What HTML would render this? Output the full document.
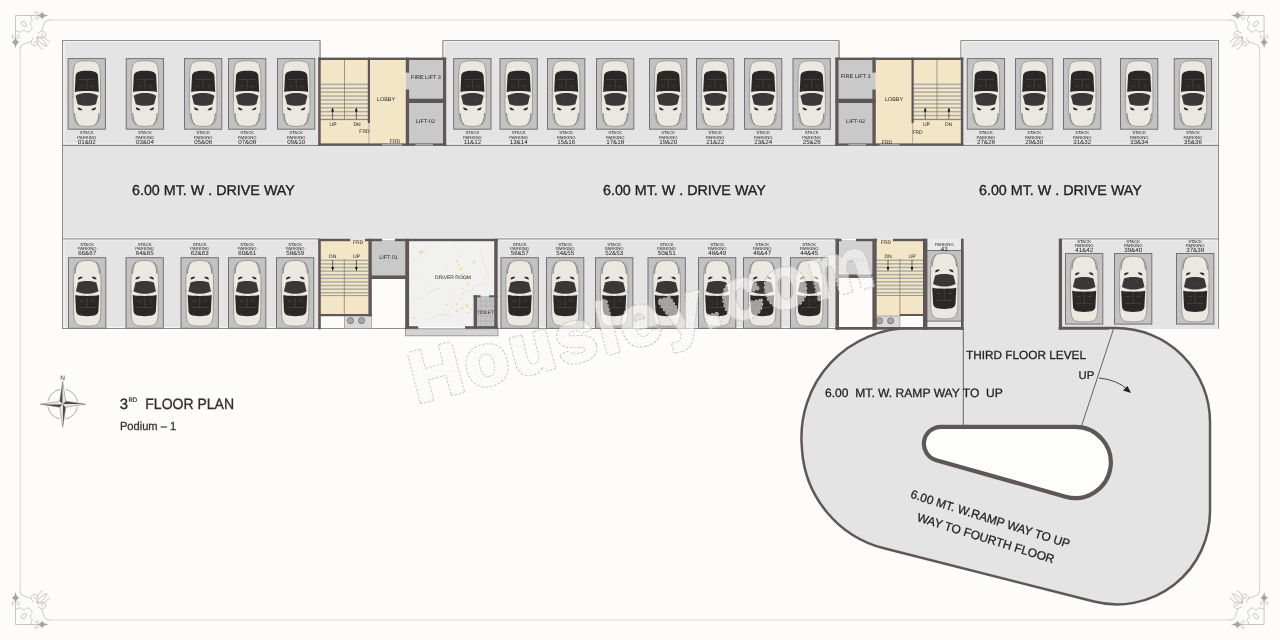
<!DOCTYPE html>
<html><head><meta charset="utf-8"><title>3rd Floor Plan</title>
<style>html,body{margin:0;padding:0;background:#fdfcfa;width:1280px;height:640px;overflow:hidden}svg{display:block;will-change:transform}text{text-rendering:geometricPrecision}</style>
</head><body><svg width="1280" height="640" viewBox="0 0 1280 640">
<defs>
 <g id="car">
  <rect x="0.5" y="0.5" width="37.3" height="70.6" fill="#c2c2c2" stroke="#727272" stroke-width="1"/>
  <path d="M19.2 2.7 C25 2.7 29.5 3.2 31 6.5 C32.6 10 32.8 14 32.8 20 L33 44 C33 52 32.6 58 31.5 62 C30 67 25 68.3 19.2 68.3 C13.4 68.3 8.4 67 6.9 62 C5.8 58 5.4 52 5.4 44 L5.6 20 C5.6 14 5.8 10 7.4 6.5 C8.9 3.2 13.4 2.7 19.2 2.7 Z" fill="#ebe8e2" stroke="#8a867f" stroke-width="0.7"/>
  <ellipse cx="5.3" cy="37.7" rx="1" ry="0.8" fill="#dcd9d3" stroke="#8a867f" stroke-width="0.4"/>
  <ellipse cx="33.1" cy="37.7" rx="1" ry="0.8" fill="#dcd9d3" stroke="#8a867f" stroke-width="0.4"/>
  <path d="M8 18 C8.5 14 11 12.6 19.2 12.6 C27.4 12.6 29.9 14 30.4 18 L31.2 33.8 C26 32.6 12.4 32.6 7.2 33.8 Z" fill="#2a2827"/>
  <path d="M7.9 37.6 C12 35.5 15.5 35 19.2 35 C22.9 35 26.4 35.5 30.5 37.6 L28.4 46.2 C25 47.3 22 47.7 19.2 47.7 C16.4 47.7 13.4 47.3 10 46.2 Z" fill="#3a3837"/>
  <path d="M11 21.3 L27.4 21.3 M19.2 21.3 L19.2 31 M11.5 28 L16 28 M22.4 28 L27 28" stroke="#625e5c" stroke-width="0.45"/>
  <path d="M12 15 h0.6 M24 14.5 h0.6 M15 25 h0.6 M25 30 h0.6 M10 31 h0.6 M17 40 h0.6 M23 42 h0.6" stroke="#7a7775" stroke-width="0.5"/>
  <path d="M7 55 C7.3 60.5 8.2 64 10.8 66.6 M31.4 55 C31.1 60.5 30.2 64 27.6 66.6" stroke="#555250" stroke-width="0.7" fill="none"/>
  <path d="M10 49.2 C12 49.6 13.9 50.6 14.8 51.9 C13 52.5 11.1 51.9 10.3 50.9 Z" fill="#2e2c2b"/>
  <path d="M28.4 49.2 C26.4 49.6 24.5 50.6 23.6 51.9 C25.4 52.5 27.3 51.9 28.1 50.9 Z" fill="#2e2c2b"/>
 </g>
</defs><rect width="1280" height="640" fill="#fdfcfa"/><path d="M51 20 L1229 20 M20.3 51 L20.3 589 M1259.6 51 L1259.6 589 M51 620 L1229 620" stroke="#e0dcd3" stroke-width="1.2" fill="none"/><g transform="translate(20,20) scale(1,1)" fill="none" stroke="#b9b4ad" stroke-width="0.75"><path d="M-4.5 16 L-4.5 -4.5 L16 -4.5"/><path d="M11.3 -4.5 C10 -3 12.8 -1.5 12 0.8 C11.4 2.4 9.8 2.2 10 3.8 C10.2 5.4 12.6 5.6 12 7.6 C11.5 9.5 10.5 10.5 10.5 10.5 M-4.5 11.3 C-3 10 -1.5 12.8 0.8 12 C2.4 11.4 2.2 9.8 3.8 10 C5.4 10.2 5.6 12.6 7.6 12 C9.5 11.5 10.5 10.5 10.5 10.5"/><ellipse cx="3.8" cy="3.8" rx="3.2" ry="1.9" transform="rotate(45 3.8 3.8)"/><path d="M16 -4.5 C18.5 -5 19 -7.5 17 -8.2 C15.5 -8.7 14.5 -7 15.8 -6.2 M16 -4.5 C18.5 -4 19 -1.5 17 -0.8 C15.5 -0.3 14.5 -2 15.8 -2.8"/><path d="M-4.5 16 C-5 18.5 -7.5 19 -8.2 17 C-8.7 15.5 -7 14.5 -6.2 15.8 M-4.5 16 C-4 18.5 -1.5 19 -0.8 17 C-0.3 15.5 -2 14.5 -2.8 15.8"/><path d="M31 0 C26.5 0 24.5 1.5 24 4 C23.5 7 22.5 8.5 21.5 10.5 C20.5 12.5 19 13.5 17.5 12.8 M0 31 C0 26.5 1.5 24.5 4 24 C7 23.5 8.5 22.5 10.5 21.5 C12.5 20.5 13.5 19 12.8 17.5"/><path d="M21.5 11.5 C24.5 10.5 26.5 13.5 25.3 16 C24.2 18 21.6 17.6 21.6 15.6 C21.6 14.2 23 13.6 23.8 14.6"/><path d="M11.5 21.5 C10.5 24.5 13.5 26.5 16 25.3 C18 24.2 17.6 21.6 15.6 21.6 C14.2 21.6 13.6 23 14.6 23.8"/><path d="M17 17 C21 18 25 21 27 26.5 C22 25 18.5 21.5 17 17 Z M17 17 C23 16.5 28 18.5 29.5 23 M17 17 C16.5 23 18.5 28 23 29.5"/></g><g transform="translate(20,20) scale(1,1)" fill="#a9a49e" stroke="none"><path d="M16.5 -4.5 C19.5 -4.8 21 -6 22 -8.5 C23 -6 25 -4.8 29 -4.5 C25 -4.2 23 -3 22 -0.5 C21 -3 19.5 -4.2 16.5 -4.5 Z"/><path d="M-4.5 16.5 C-4.8 19.5 -6 21 -8.5 22 C-6 23 -4.8 25 -4.5 29 C-4.2 25 -3 23 -0.5 22 C-3 21 -4.2 19.5 -4.5 16.5 Z"/></g><g transform="translate(1259.6,20) scale(-1,1)" fill="none" stroke="#b9b4ad" stroke-width="0.75"><path d="M-4.5 16 L-4.5 -4.5 L16 -4.5"/><path d="M11.3 -4.5 C10 -3 12.8 -1.5 12 0.8 C11.4 2.4 9.8 2.2 10 3.8 C10.2 5.4 12.6 5.6 12 7.6 C11.5 9.5 10.5 10.5 10.5 10.5 M-4.5 11.3 C-3 10 -1.5 12.8 0.8 12 C2.4 11.4 2.2 9.8 3.8 10 C5.4 10.2 5.6 12.6 7.6 12 C9.5 11.5 10.5 10.5 10.5 10.5"/><ellipse cx="3.8" cy="3.8" rx="3.2" ry="1.9" transform="rotate(45 3.8 3.8)"/><path d="M16 -4.5 C18.5 -5 19 -7.5 17 -8.2 C15.5 -8.7 14.5 -7 15.8 -6.2 M16 -4.5 C18.5 -4 19 -1.5 17 -0.8 C15.5 -0.3 14.5 -2 15.8 -2.8"/><path d="M-4.5 16 C-5 18.5 -7.5 19 -8.2 17 C-8.7 15.5 -7 14.5 -6.2 15.8 M-4.5 16 C-4 18.5 -1.5 19 -0.8 17 C-0.3 15.5 -2 14.5 -2.8 15.8"/><path d="M31 0 C26.5 0 24.5 1.5 24 4 C23.5 7 22.5 8.5 21.5 10.5 C20.5 12.5 19 13.5 17.5 12.8 M0 31 C0 26.5 1.5 24.5 4 24 C7 23.5 8.5 22.5 10.5 21.5 C12.5 20.5 13.5 19 12.8 17.5"/><path d="M21.5 11.5 C24.5 10.5 26.5 13.5 25.3 16 C24.2 18 21.6 17.6 21.6 15.6 C21.6 14.2 23 13.6 23.8 14.6"/><path d="M11.5 21.5 C10.5 24.5 13.5 26.5 16 25.3 C18 24.2 17.6 21.6 15.6 21.6 C14.2 21.6 13.6 23 14.6 23.8"/><path d="M17 17 C21 18 25 21 27 26.5 C22 25 18.5 21.5 17 17 Z M17 17 C23 16.5 28 18.5 29.5 23 M17 17 C16.5 23 18.5 28 23 29.5"/></g><g transform="translate(1259.6,20) scale(-1,1)" fill="#a9a49e" stroke="none"><path d="M16.5 -4.5 C19.5 -4.8 21 -6 22 -8.5 C23 -6 25 -4.8 29 -4.5 C25 -4.2 23 -3 22 -0.5 C21 -3 19.5 -4.2 16.5 -4.5 Z"/><path d="M-4.5 16.5 C-4.8 19.5 -6 21 -8.5 22 C-6 23 -4.8 25 -4.5 29 C-4.2 25 -3 23 -0.5 22 C-3 21 -4.2 19.5 -4.5 16.5 Z"/></g><g transform="translate(20,620) scale(1,-1)" fill="none" stroke="#b9b4ad" stroke-width="0.75"><path d="M-4.5 16 L-4.5 -4.5 L16 -4.5"/><path d="M11.3 -4.5 C10 -3 12.8 -1.5 12 0.8 C11.4 2.4 9.8 2.2 10 3.8 C10.2 5.4 12.6 5.6 12 7.6 C11.5 9.5 10.5 10.5 10.5 10.5 M-4.5 11.3 C-3 10 -1.5 12.8 0.8 12 C2.4 11.4 2.2 9.8 3.8 10 C5.4 10.2 5.6 12.6 7.6 12 C9.5 11.5 10.5 10.5 10.5 10.5"/><ellipse cx="3.8" cy="3.8" rx="3.2" ry="1.9" transform="rotate(45 3.8 3.8)"/><path d="M16 -4.5 C18.5 -5 19 -7.5 17 -8.2 C15.5 -8.7 14.5 -7 15.8 -6.2 M16 -4.5 C18.5 -4 19 -1.5 17 -0.8 C15.5 -0.3 14.5 -2 15.8 -2.8"/><path d="M-4.5 16 C-5 18.5 -7.5 19 -8.2 17 C-8.7 15.5 -7 14.5 -6.2 15.8 M-4.5 16 C-4 18.5 -1.5 19 -0.8 17 C-0.3 15.5 -2 14.5 -2.8 15.8"/><path d="M31 0 C26.5 0 24.5 1.5 24 4 C23.5 7 22.5 8.5 21.5 10.5 C20.5 12.5 19 13.5 17.5 12.8 M0 31 C0 26.5 1.5 24.5 4 24 C7 23.5 8.5 22.5 10.5 21.5 C12.5 20.5 13.5 19 12.8 17.5"/><path d="M21.5 11.5 C24.5 10.5 26.5 13.5 25.3 16 C24.2 18 21.6 17.6 21.6 15.6 C21.6 14.2 23 13.6 23.8 14.6"/><path d="M11.5 21.5 C10.5 24.5 13.5 26.5 16 25.3 C18 24.2 17.6 21.6 15.6 21.6 C14.2 21.6 13.6 23 14.6 23.8"/><path d="M17 17 C21 18 25 21 27 26.5 C22 25 18.5 21.5 17 17 Z M17 17 C23 16.5 28 18.5 29.5 23 M17 17 C16.5 23 18.5 28 23 29.5"/></g><g transform="translate(20,620) scale(1,-1)" fill="#a9a49e" stroke="none"><path d="M16.5 -4.5 C19.5 -4.8 21 -6 22 -8.5 C23 -6 25 -4.8 29 -4.5 C25 -4.2 23 -3 22 -0.5 C21 -3 19.5 -4.2 16.5 -4.5 Z"/><path d="M-4.5 16.5 C-4.8 19.5 -6 21 -8.5 22 C-6 23 -4.8 25 -4.5 29 C-4.2 25 -3 23 -0.5 22 C-3 21 -4.2 19.5 -4.5 16.5 Z"/></g><g transform="translate(1259.6,620) scale(-1,-1)" fill="none" stroke="#b9b4ad" stroke-width="0.75"><path d="M-4.5 16 L-4.5 -4.5 L16 -4.5"/><path d="M11.3 -4.5 C10 -3 12.8 -1.5 12 0.8 C11.4 2.4 9.8 2.2 10 3.8 C10.2 5.4 12.6 5.6 12 7.6 C11.5 9.5 10.5 10.5 10.5 10.5 M-4.5 11.3 C-3 10 -1.5 12.8 0.8 12 C2.4 11.4 2.2 9.8 3.8 10 C5.4 10.2 5.6 12.6 7.6 12 C9.5 11.5 10.5 10.5 10.5 10.5"/><ellipse cx="3.8" cy="3.8" rx="3.2" ry="1.9" transform="rotate(45 3.8 3.8)"/><path d="M16 -4.5 C18.5 -5 19 -7.5 17 -8.2 C15.5 -8.7 14.5 -7 15.8 -6.2 M16 -4.5 C18.5 -4 19 -1.5 17 -0.8 C15.5 -0.3 14.5 -2 15.8 -2.8"/><path d="M-4.5 16 C-5 18.5 -7.5 19 -8.2 17 C-8.7 15.5 -7 14.5 -6.2 15.8 M-4.5 16 C-4 18.5 -1.5 19 -0.8 17 C-0.3 15.5 -2 14.5 -2.8 15.8"/><path d="M31 0 C26.5 0 24.5 1.5 24 4 C23.5 7 22.5 8.5 21.5 10.5 C20.5 12.5 19 13.5 17.5 12.8 M0 31 C0 26.5 1.5 24.5 4 24 C7 23.5 8.5 22.5 10.5 21.5 C12.5 20.5 13.5 19 12.8 17.5"/><path d="M21.5 11.5 C24.5 10.5 26.5 13.5 25.3 16 C24.2 18 21.6 17.6 21.6 15.6 C21.6 14.2 23 13.6 23.8 14.6"/><path d="M11.5 21.5 C10.5 24.5 13.5 26.5 16 25.3 C18 24.2 17.6 21.6 15.6 21.6 C14.2 21.6 13.6 23 14.6 23.8"/><path d="M17 17 C21 18 25 21 27 26.5 C22 25 18.5 21.5 17 17 Z M17 17 C23 16.5 28 18.5 29.5 23 M17 17 C16.5 23 18.5 28 23 29.5"/></g><g transform="translate(1259.6,620) scale(-1,-1)" fill="#a9a49e" stroke="none"><path d="M16.5 -4.5 C19.5 -4.8 21 -6 22 -8.5 C23 -6 25 -4.8 29 -4.5 C25 -4.2 23 -3 22 -0.5 C21 -3 19.5 -4.2 16.5 -4.5 Z"/><path d="M-4.5 16.5 C-4.8 19.5 -6 21 -8.5 22 C-6 23 -4.8 25 -4.5 29 C-4.2 25 -3 23 -0.5 22 C-3 21 -4.2 19.5 -4.5 16.5 Z"/></g><g fill="#e4e4e4" stroke="#8f8e8b" stroke-width="1"><path d="M62.5 40.5 L320 40.5 L320 58 M443 58 L443 40.5 L839 40.5 L839 58 M961 58 L961 40.5 L1218.5 40.5 L1218.5 328.5 L1059 328.5 M836 328.5 L498 328.5 M405 328.5 L319 328.5 L62.5 328.5 L62.5 40.5" fill="none"/></g><g fill="#e4e4e4"><rect x="63" y="41" width="256.5" height="288"/><rect x="443.5" y="41" width="395" height="105"/><rect x="961.5" y="41" width="257" height="288"/><rect x="63" y="145" width="1155.5" height="94"/><rect x="498" y="239" width="338" height="90"/><rect x="963" y="239" width="96" height="90"/></g><path d="M62.5 40.5 L320 40.5 L320 58 M443 58 L443 40.5 L839 40.5 L839 58 M961 58 L961 40.5 L1218.5 40.5 L1218.5 328.5 M62.5 328.5 L62.5 40.5 M62.5 328.5 L319 328.5 M498 328.5 L836 328.5" fill="none" stroke="#8f8e8b" stroke-width="1"/><path d="M64 58 L64 41.6 L319 41.6 M444.2 58 L444.2 41.6 L838 41.6 M962 58 L962 41.6 L1217.5 41.6 L1217.5 144 M64 144 L64 41.6 M64 240 L64 327.5 L318 327.5 M499 327.5 L835 327.5 M1217.5 240 L1217.5 327.5" stroke="#f4f4f4" stroke-width="1" fill="none"/><path d="M63 144 L1218 144 M63 237.8 L319 237.8 M498 237.8 L836 237.8 M1059 237.8 L1218 237.8 M63 240 L319 240 M498 240 L836 240 M1059 240 L1218 240" stroke="#f4f4f4" stroke-width="1"/><path d="M63 145.4 L1218 145.4" stroke="#767272" stroke-width="1"/><path d="M63 238.9 L319 238.9 M498 238.9 L836 238.9 M1059 238.9 L1218 238.9" stroke="#8e8b89" stroke-width="1"/><path d="M910.68 328.00 L1116.01 328.00 A93.99 93.99 0 0 1 1210.00 421.99 L1210.00 511.32 A93.09 93.09 0 0 1 1094.01 601.56 L884.01 548.27 A109.02 109.02 0 0 1 802.06 450.08 L801.69 444.74 A109.24 109.24 0 0 1 910.68 328.00 Z" fill="#e4e4e4" stroke="#5f5757" stroke-width="2.5"/><rect x="963" y="320" width="96" height="10" fill="#e4e4e4"/><path d="M940.92 426.80 L1075.25 426.80 A35.59 35.59 0 1 1 1065.61 496.65 L936.30 460.26 A17.05 17.05 0 0 1 940.92 426.80 Z" fill="#fdfdfb" stroke="#5f5757" stroke-width="4.2"/><path d="M963.3 329 L963.3 426 M1113.5 329 L1081.5 426" stroke="#555" stroke-width="0.9"/><path d="M1099 378 Q1118 380 1128 390" fill="none" stroke="#333" stroke-width="0.9"/><path d="M1131 393 L1123 390.5 L1127.5 386 Z" fill="#222"/><g font-family="Liberation Sans, sans-serif"><text x="966" y="358.8" font-size="11.8" text-anchor="start" fill="#1e1e1e" font-weight="normal" stroke="#1e1e1e" stroke-width="0.26" >THIRD FLOOR LEVEL</text><text x="825" y="396.6" font-size="12.1" text-anchor="start" fill="#1e1e1e" font-weight="normal" stroke="#1e1e1e" stroke-width="0.266" >6.00&#160; MT. W. RAMP WAY TO&#160; UP</text><text x="1078.5" y="378.8" font-size="11.3" text-anchor="start" fill="#1e1e1e" font-weight="normal" stroke="#1e1e1e" stroke-width="0.249" >UP</text><g transform="translate(909.8,497.6) rotate(17.6)"><text x="0" y="0" font-size="12" text-anchor="start" fill="#1e1e1e" font-weight="normal" stroke="#1e1e1e" stroke-width="0.264" >6.00 MT. W.RAMP WAY TO UP</text></g><g transform="translate(916.2,520.8) rotate(17.3)"><text x="0" y="0" font-size="12" text-anchor="start" fill="#1e1e1e" font-weight="normal" stroke="#1e1e1e" stroke-width="0.264" >WAY TO FOURTH FLOOR</text></g><text x="132" y="195.2" font-size="14.3" text-anchor="start" fill="#1e1e1e" font-weight="normal" stroke="#1e1e1e" stroke-width="0.315" >6.00 MT. W . DRIVE WAY</text><text x="603" y="195.2" font-size="14.3" text-anchor="start" fill="#1e1e1e" font-weight="normal" stroke="#1e1e1e" stroke-width="0.315" >6.00 MT. W . DRIVE WAY</text><text x="979" y="195.2" font-size="14.3" text-anchor="start" fill="#1e1e1e" font-weight="normal" stroke="#1e1e1e" stroke-width="0.315" >6.00 MT. W . DRIVE WAY</text></g><g font-family="Liberation Sans, sans-serif"><use href="#car" x="67.6" y="58.1"/><text x="86.8" y="134.4" font-size="4.3" text-anchor="middle" fill="#1e1e1e" font-weight="normal" >STACK</text><text x="86.8" y="138.6" font-size="4.3" text-anchor="middle" fill="#1e1e1e" font-weight="normal" >PARKING</text><text x="86.8" y="143.6" font-size="6.2" text-anchor="middle" fill="#1e1e1e" font-weight="normal" >01&amp;02</text><use href="#car" x="125.75" y="58.1"/><text x="144.95" y="134.4" font-size="4.3" text-anchor="middle" fill="#1e1e1e" font-weight="normal" >STACK</text><text x="144.95" y="138.6" font-size="4.3" text-anchor="middle" fill="#1e1e1e" font-weight="normal" >PARKING</text><text x="144.95" y="143.6" font-size="6.2" text-anchor="middle" fill="#1e1e1e" font-weight="normal" >03&amp;04</text><use href="#car" x="184" y="58.1"/><text x="203.2" y="134.4" font-size="4.3" text-anchor="middle" fill="#1e1e1e" font-weight="normal" >STACK</text><text x="203.2" y="138.6" font-size="4.3" text-anchor="middle" fill="#1e1e1e" font-weight="normal" >PARKING</text><text x="203.2" y="143.6" font-size="6.2" text-anchor="middle" fill="#1e1e1e" font-weight="normal" >05&amp;06</text><use href="#car" x="228" y="58.1"/><text x="247.2" y="134.4" font-size="4.3" text-anchor="middle" fill="#1e1e1e" font-weight="normal" >STACK</text><text x="247.2" y="138.6" font-size="4.3" text-anchor="middle" fill="#1e1e1e" font-weight="normal" >PARKING</text><text x="247.2" y="143.6" font-size="6.2" text-anchor="middle" fill="#1e1e1e" font-weight="normal" >07&amp;08</text><use href="#car" x="277" y="58.1"/><text x="296.2" y="134.4" font-size="4.3" text-anchor="middle" fill="#1e1e1e" font-weight="normal" >STACK</text><text x="296.2" y="138.6" font-size="4.3" text-anchor="middle" fill="#1e1e1e" font-weight="normal" >PARKING</text><text x="296.2" y="143.6" font-size="6.2" text-anchor="middle" fill="#1e1e1e" font-weight="normal" >09&amp;10</text><use href="#car" x="453.2" y="58.1"/><text x="472.4" y="134.4" font-size="4.3" text-anchor="middle" fill="#1e1e1e" font-weight="normal" >STACK</text><text x="472.4" y="138.6" font-size="4.3" text-anchor="middle" fill="#1e1e1e" font-weight="normal" >PARKING</text><text x="472.4" y="143.6" font-size="6.2" text-anchor="middle" fill="#1e1e1e" font-weight="normal" >11&amp;12</text><use href="#car" x="499.5" y="58.1"/><text x="518.7" y="134.4" font-size="4.3" text-anchor="middle" fill="#1e1e1e" font-weight="normal" >STACK</text><text x="518.7" y="138.6" font-size="4.3" text-anchor="middle" fill="#1e1e1e" font-weight="normal" >PARKING</text><text x="518.7" y="143.6" font-size="6.2" text-anchor="middle" fill="#1e1e1e" font-weight="normal" >13&amp;14</text><use href="#car" x="547" y="58.1"/><text x="566.2" y="134.4" font-size="4.3" text-anchor="middle" fill="#1e1e1e" font-weight="normal" >STACK</text><text x="566.2" y="138.6" font-size="4.3" text-anchor="middle" fill="#1e1e1e" font-weight="normal" >PARKING</text><text x="566.2" y="143.6" font-size="6.2" text-anchor="middle" fill="#1e1e1e" font-weight="normal" >15&amp;16</text><use href="#car" x="596" y="58.1"/><text x="615.2" y="134.4" font-size="4.3" text-anchor="middle" fill="#1e1e1e" font-weight="normal" >STACK</text><text x="615.2" y="138.6" font-size="4.3" text-anchor="middle" fill="#1e1e1e" font-weight="normal" >PARKING</text><text x="615.2" y="143.6" font-size="6.2" text-anchor="middle" fill="#1e1e1e" font-weight="normal" >17&amp;18</text><use href="#car" x="649" y="58.1"/><text x="668.2" y="134.4" font-size="4.3" text-anchor="middle" fill="#1e1e1e" font-weight="normal" >STACK</text><text x="668.2" y="138.6" font-size="4.3" text-anchor="middle" fill="#1e1e1e" font-weight="normal" >PARKING</text><text x="668.2" y="143.6" font-size="6.2" text-anchor="middle" fill="#1e1e1e" font-weight="normal" >19&amp;20</text><use href="#car" x="696" y="58.1"/><text x="715.2" y="134.4" font-size="4.3" text-anchor="middle" fill="#1e1e1e" font-weight="normal" >STACK</text><text x="715.2" y="138.6" font-size="4.3" text-anchor="middle" fill="#1e1e1e" font-weight="normal" >PARKING</text><text x="715.2" y="143.6" font-size="6.2" text-anchor="middle" fill="#1e1e1e" font-weight="normal" >21&amp;22</text><use href="#car" x="744" y="58.1"/><text x="763.2" y="134.4" font-size="4.3" text-anchor="middle" fill="#1e1e1e" font-weight="normal" >STACK</text><text x="763.2" y="138.6" font-size="4.3" text-anchor="middle" fill="#1e1e1e" font-weight="normal" >PARKING</text><text x="763.2" y="143.6" font-size="6.2" text-anchor="middle" fill="#1e1e1e" font-weight="normal" >23&amp;24</text><use href="#car" x="792.5" y="58.1"/><text x="811.7" y="134.4" font-size="4.3" text-anchor="middle" fill="#1e1e1e" font-weight="normal" >STACK</text><text x="811.7" y="138.6" font-size="4.3" text-anchor="middle" fill="#1e1e1e" font-weight="normal" >PARKING</text><text x="811.7" y="143.6" font-size="6.2" text-anchor="middle" fill="#1e1e1e" font-weight="normal" >25&amp;26</text><use href="#car" x="966.75" y="58.1"/><text x="985.95" y="134.4" font-size="4.3" text-anchor="middle" fill="#1e1e1e" font-weight="normal" >STACK</text><text x="985.95" y="138.6" font-size="4.3" text-anchor="middle" fill="#1e1e1e" font-weight="normal" >PARKING</text><text x="985.95" y="143.6" font-size="6.2" text-anchor="middle" fill="#1e1e1e" font-weight="normal" >27&amp;28</text><use href="#car" x="1015" y="58.1"/><text x="1034.2" y="134.4" font-size="4.3" text-anchor="middle" fill="#1e1e1e" font-weight="normal" >STACK</text><text x="1034.2" y="138.6" font-size="4.3" text-anchor="middle" fill="#1e1e1e" font-weight="normal" >PARKING</text><text x="1034.2" y="143.6" font-size="6.2" text-anchor="middle" fill="#1e1e1e" font-weight="normal" >29&amp;30</text><use href="#car" x="1063" y="58.1"/><text x="1082.2" y="134.4" font-size="4.3" text-anchor="middle" fill="#1e1e1e" font-weight="normal" >STACK</text><text x="1082.2" y="138.6" font-size="4.3" text-anchor="middle" fill="#1e1e1e" font-weight="normal" >PARKING</text><text x="1082.2" y="143.6" font-size="6.2" text-anchor="middle" fill="#1e1e1e" font-weight="normal" >31&amp;32</text><use href="#car" x="1120" y="58.1"/><text x="1139.2" y="134.4" font-size="4.3" text-anchor="middle" fill="#1e1e1e" font-weight="normal" >STACK</text><text x="1139.2" y="138.6" font-size="4.3" text-anchor="middle" fill="#1e1e1e" font-weight="normal" >PARKING</text><text x="1139.2" y="143.6" font-size="6.2" text-anchor="middle" fill="#1e1e1e" font-weight="normal" >33&amp;34</text><use href="#car" x="1173.75" y="58.1"/><text x="1192.95" y="134.4" font-size="4.3" text-anchor="middle" fill="#1e1e1e" font-weight="normal" >STACK</text><text x="1192.95" y="138.6" font-size="4.3" text-anchor="middle" fill="#1e1e1e" font-weight="normal" >PARKING</text><text x="1192.95" y="143.6" font-size="6.2" text-anchor="middle" fill="#1e1e1e" font-weight="normal" >35&amp;36</text><g transform="translate(68,328.8) scale(1,-1)"><use href="#car"/></g><text x="87.2" y="246" font-size="4.3" text-anchor="middle" fill="#1e1e1e" font-weight="normal" >STACK</text><text x="87.2" y="250.2" font-size="4.3" text-anchor="middle" fill="#1e1e1e" font-weight="normal" >PARKING</text><text x="87.2" y="255.2" font-size="6.2" text-anchor="middle" fill="#1e1e1e" font-weight="normal" >66&amp;67</text><g transform="translate(125.5,328.8) scale(1,-1)"><use href="#car"/></g><text x="144.7" y="246" font-size="4.3" text-anchor="middle" fill="#1e1e1e" font-weight="normal" >STACK</text><text x="144.7" y="250.2" font-size="4.3" text-anchor="middle" fill="#1e1e1e" font-weight="normal" >PARKING</text><text x="144.7" y="255.2" font-size="6.2" text-anchor="middle" fill="#1e1e1e" font-weight="normal" >64&amp;65</text><g transform="translate(180.5,328.8) scale(1,-1)"><use href="#car"/></g><text x="199.7" y="246" font-size="4.3" text-anchor="middle" fill="#1e1e1e" font-weight="normal" >STACK</text><text x="199.7" y="250.2" font-size="4.3" text-anchor="middle" fill="#1e1e1e" font-weight="normal" >PARKING</text><text x="199.7" y="255.2" font-size="6.2" text-anchor="middle" fill="#1e1e1e" font-weight="normal" >62&amp;63</text><g transform="translate(228,328.8) scale(1,-1)"><use href="#car"/></g><text x="247.2" y="246" font-size="4.3" text-anchor="middle" fill="#1e1e1e" font-weight="normal" >STACK</text><text x="247.2" y="250.2" font-size="4.3" text-anchor="middle" fill="#1e1e1e" font-weight="normal" >PARKING</text><text x="247.2" y="255.2" font-size="6.2" text-anchor="middle" fill="#1e1e1e" font-weight="normal" >60&amp;61</text><g transform="translate(276,328.8) scale(1,-1)"><use href="#car"/></g><text x="295.2" y="246" font-size="4.3" text-anchor="middle" fill="#1e1e1e" font-weight="normal" >STACK</text><text x="295.2" y="250.2" font-size="4.3" text-anchor="middle" fill="#1e1e1e" font-weight="normal" >PARKING</text><text x="295.2" y="255.2" font-size="6.2" text-anchor="middle" fill="#1e1e1e" font-weight="normal" >58&amp;59</text><g transform="translate(500.5,328.8) scale(1,-1)"><use href="#car"/></g><text x="519.7" y="246" font-size="4.3" text-anchor="middle" fill="#1e1e1e" font-weight="normal" >STACK</text><text x="519.7" y="250.2" font-size="4.3" text-anchor="middle" fill="#1e1e1e" font-weight="normal" >PARKING</text><text x="519.7" y="255.2" font-size="6.2" text-anchor="middle" fill="#1e1e1e" font-weight="normal" >56&amp;57</text><g transform="translate(546,328.8) scale(1,-1)"><use href="#car"/></g><text x="565.2" y="246" font-size="4.3" text-anchor="middle" fill="#1e1e1e" font-weight="normal" >STACK</text><text x="565.2" y="250.2" font-size="4.3" text-anchor="middle" fill="#1e1e1e" font-weight="normal" >PARKING</text><text x="565.2" y="255.2" font-size="6.2" text-anchor="middle" fill="#1e1e1e" font-weight="normal" >54&amp;55</text><g transform="translate(595,328.8) scale(1,-1)"><use href="#car"/></g><text x="614.2" y="246" font-size="4.3" text-anchor="middle" fill="#1e1e1e" font-weight="normal" >STACK</text><text x="614.2" y="250.2" font-size="4.3" text-anchor="middle" fill="#1e1e1e" font-weight="normal" >PARKING</text><text x="614.2" y="255.2" font-size="6.2" text-anchor="middle" fill="#1e1e1e" font-weight="normal" >52&amp;53</text><g transform="translate(647.5,328.8) scale(1,-1)"><use href="#car"/></g><text x="666.7" y="246" font-size="4.3" text-anchor="middle" fill="#1e1e1e" font-weight="normal" >STACK</text><text x="666.7" y="250.2" font-size="4.3" text-anchor="middle" fill="#1e1e1e" font-weight="normal" >PARKING</text><text x="666.7" y="255.2" font-size="6.2" text-anchor="middle" fill="#1e1e1e" font-weight="normal" >50&amp;51</text><g transform="translate(698,328.8) scale(1,-1)"><use href="#car"/></g><text x="717.2" y="246" font-size="4.3" text-anchor="middle" fill="#1e1e1e" font-weight="normal" >STACK</text><text x="717.2" y="250.2" font-size="4.3" text-anchor="middle" fill="#1e1e1e" font-weight="normal" >PARKING</text><text x="717.2" y="255.2" font-size="6.2" text-anchor="middle" fill="#1e1e1e" font-weight="normal" >48&amp;49</text><g transform="translate(743,328.8) scale(1,-1)"><use href="#car"/></g><text x="762.2" y="246" font-size="4.3" text-anchor="middle" fill="#1e1e1e" font-weight="normal" >STACK</text><text x="762.2" y="250.2" font-size="4.3" text-anchor="middle" fill="#1e1e1e" font-weight="normal" >PARKING</text><text x="762.2" y="255.2" font-size="6.2" text-anchor="middle" fill="#1e1e1e" font-weight="normal" >46&amp;47</text><g transform="translate(790,328.8) scale(1,-1)"><use href="#car"/></g><text x="809.2" y="246" font-size="4.3" text-anchor="middle" fill="#1e1e1e" font-weight="normal" >STACK</text><text x="809.2" y="250.2" font-size="4.3" text-anchor="middle" fill="#1e1e1e" font-weight="normal" >PARKING</text><text x="809.2" y="255.2" font-size="6.2" text-anchor="middle" fill="#1e1e1e" font-weight="normal" >44&amp;45</text><g transform="translate(1065,324.6) scale(1,-1)"><use href="#car"/></g><text x="1084.2" y="242.7" font-size="4.3" text-anchor="middle" fill="#1e1e1e" font-weight="normal" >STACK</text><text x="1084.2" y="246.89999999999998" font-size="4.3" text-anchor="middle" fill="#1e1e1e" font-weight="normal" >PARKING</text><text x="1084.2" y="251.89999999999998" font-size="6.2" text-anchor="middle" fill="#1e1e1e" font-weight="normal" >41&amp;42</text><g transform="translate(1114,324.6) scale(1,-1)"><use href="#car"/></g><text x="1133.2" y="242.7" font-size="4.3" text-anchor="middle" fill="#1e1e1e" font-weight="normal" >STACK</text><text x="1133.2" y="246.89999999999998" font-size="4.3" text-anchor="middle" fill="#1e1e1e" font-weight="normal" >PARKING</text><text x="1133.2" y="251.89999999999998" font-size="6.2" text-anchor="middle" fill="#1e1e1e" font-weight="normal" >39&amp;40</text><g transform="translate(1176,324.6) scale(1,-1)"><use href="#car"/></g><text x="1195.2" y="242.7" font-size="4.3" text-anchor="middle" fill="#1e1e1e" font-weight="normal" >STACK</text><text x="1195.2" y="246.89999999999998" font-size="4.3" text-anchor="middle" fill="#1e1e1e" font-weight="normal" >PARKING</text><text x="1195.2" y="251.89999999999998" font-size="6.2" text-anchor="middle" fill="#1e1e1e" font-weight="normal" >37&amp;38</text></g><g font-family="Liberation Sans, sans-serif"><rect x="318.5" y="58" width="127.5" height="87.5" fill="#f2e6c6"/><rect x="406" y="58" width="40" height="87.5" fill="#c9c9c9"/><rect x="320.5" y="83.60" width="48" height="1.5" fill="#aeaba5"/><rect x="320.5" y="87.50" width="48" height="1.5" fill="#aeaba5"/><rect x="320.5" y="91.40" width="48" height="1.5" fill="#aeaba5"/><rect x="320.5" y="95.30" width="48" height="1.5" fill="#aeaba5"/><rect x="320.5" y="99.20" width="48" height="1.5" fill="#aeaba5"/><rect x="320.5" y="103.10" width="48" height="1.5" fill="#aeaba5"/><rect x="320.5" y="107.00" width="48" height="1.5" fill="#aeaba5"/><rect x="320.5" y="110.90" width="48" height="1.5" fill="#aeaba5"/><rect x="320.5" y="114.80" width="48" height="1.5" fill="#aeaba5"/><rect x="320.5" y="118.70" width="48" height="1.5" fill="#aeaba5"/><path d="M344.5 60 L344.5 119.5" stroke="#7a7570" stroke-width="0.7"/><path d="M320.5 119.5 L368.5 119.5" stroke="#7a7570" stroke-width="0.7"/><path d="M368.9 123 L368.9 143.5" stroke="#8a8580" stroke-width="0.6"/><path d="M332.6 119 L332.6 109.5" stroke="#111" stroke-width="0.6"/><path d="M331.20000000000005 111.5 L332.6 107.3 L334.0 111.5 Z" fill="#111"/><path d="M356.3 119 L356.3 109.5" stroke="#111" stroke-width="0.6"/><path d="M354.90000000000003 111.5 L356.3 107.3 L357.7 111.5 Z" fill="#111"/><g fill="#5f5757"><rect x="318.2" y="57.6" width="128" height="2.4"/><rect x="318.2" y="143.4" width="128" height="2.4"/><rect x="318.2" y="57.6" width="2.5" height="88.2"/><rect x="367.8" y="57.6" width="2.2" height="65.5"/><rect x="405.8" y="57.6" width="3.3" height="15"/><rect x="405.8" y="89.5" width="3.3" height="56.3"/><rect x="443" y="57.6" width="3.2" height="88.2"/><rect x="406" y="98.7" width="40" height="4.3"/></g><rect x="415.5" y="143.9" width="17.5" height="1.6" fill="#a9a9a9"/><rect x="382" y="143.9" width="20" height="1.6" fill="#a9a9a9"/><text x="333" y="125.5" font-size="5" text-anchor="middle" fill="#1e1e1e" font-weight="normal" >UP</text><text x="357" y="125.5" font-size="5" text-anchor="middle" fill="#1e1e1e" font-weight="normal" >DN</text><text x="364.5" y="133.3" font-size="5" text-anchor="middle" fill="#1e1e1e" font-weight="normal" >FRD</text><text x="395" y="143" font-size="5" text-anchor="middle" fill="#1e1e1e" font-weight="normal" >FRD</text><text x="386" y="100.6" font-size="5.4" text-anchor="middle" fill="#1e1e1e" font-weight="normal" >LOBBY</text><text x="426" y="78.6" font-size="5.5" text-anchor="middle" fill="#1e1e1e" font-weight="normal" >FIRE LIFT 3</text><text x="425.5" y="123" font-size="5.5" text-anchor="middle" fill="#1e1e1e" font-weight="normal" >LIFT-02</text><g transform="translate(1281.5,0) scale(-1,1)"><rect x="318.5" y="58" width="127.5" height="87.5" fill="#f2e6c6"/><rect x="406" y="58" width="40" height="87.5" fill="#c9c9c9"/><rect x="320.5" y="83.60" width="48" height="1.5" fill="#aeaba5"/><rect x="320.5" y="87.50" width="48" height="1.5" fill="#aeaba5"/><rect x="320.5" y="91.40" width="48" height="1.5" fill="#aeaba5"/><rect x="320.5" y="95.30" width="48" height="1.5" fill="#aeaba5"/><rect x="320.5" y="99.20" width="48" height="1.5" fill="#aeaba5"/><rect x="320.5" y="103.10" width="48" height="1.5" fill="#aeaba5"/><rect x="320.5" y="107.00" width="48" height="1.5" fill="#aeaba5"/><rect x="320.5" y="110.90" width="48" height="1.5" fill="#aeaba5"/><rect x="320.5" y="114.80" width="48" height="1.5" fill="#aeaba5"/><rect x="320.5" y="118.70" width="48" height="1.5" fill="#aeaba5"/><path d="M344.5 60 L344.5 119.5" stroke="#7a7570" stroke-width="0.7"/><path d="M320.5 119.5 L368.5 119.5" stroke="#7a7570" stroke-width="0.7"/><path d="M368.9 123 L368.9 143.5" stroke="#8a8580" stroke-width="0.6"/><path d="M332.6 119 L332.6 109.5" stroke="#111" stroke-width="0.6"/><path d="M331.20000000000005 111.5 L332.6 107.3 L334.0 111.5 Z" fill="#111"/><path d="M356.3 119 L356.3 109.5" stroke="#111" stroke-width="0.6"/><path d="M354.90000000000003 111.5 L356.3 107.3 L357.7 111.5 Z" fill="#111"/><g fill="#5f5757"><rect x="318.2" y="57.6" width="128" height="2.4"/><rect x="318.2" y="143.4" width="128" height="2.4"/><rect x="318.2" y="57.6" width="2.5" height="88.2"/><rect x="367.8" y="57.6" width="2.2" height="65.5"/><rect x="405.8" y="57.6" width="3.3" height="15"/><rect x="405.8" y="89.5" width="3.3" height="56.3"/><rect x="443" y="57.6" width="3.2" height="88.2"/><rect x="406" y="98.7" width="40" height="4.3"/></g><rect x="415.5" y="143.9" width="17.5" height="1.6" fill="#a9a9a9"/><rect x="382" y="143.9" width="20" height="1.6" fill="#a9a9a9"/></g><text x="855.6" y="78.2" font-size="5.5" text-anchor="middle" fill="#1e1e1e" font-weight="normal" >FIRE LIFT 3</text><text x="855.6" y="123.4" font-size="5.5" text-anchor="middle" fill="#1e1e1e" font-weight="normal" >LIFT-02</text><text x="894" y="100.5" font-size="5.4" text-anchor="middle" fill="#1e1e1e" font-weight="normal" >LOBBY</text><text x="926.4" y="125.5" font-size="5" text-anchor="middle" fill="#1e1e1e" font-weight="normal" >UP</text><text x="948.5" y="125.5" font-size="5" text-anchor="middle" fill="#1e1e1e" font-weight="normal" >DN</text><text x="917.6" y="133.5" font-size="5" text-anchor="middle" fill="#1e1e1e" font-weight="normal" >FRD</text><text x="887" y="143.8" font-size="5" text-anchor="middle" fill="#1e1e1e" font-weight="normal" >FRD</text><rect x="320.5" y="239" width="48" height="76" fill="#f2e6c6"/><rect x="320.8" y="259.60" width="47.599999999999966" height="1.5" fill="#aeaba5"/><rect x="320.8" y="263.20" width="47.599999999999966" height="1.5" fill="#aeaba5"/><rect x="320.8" y="266.80" width="47.599999999999966" height="1.5" fill="#aeaba5"/><rect x="320.8" y="270.40" width="47.599999999999966" height="1.5" fill="#aeaba5"/><rect x="320.8" y="274.00" width="47.599999999999966" height="1.5" fill="#aeaba5"/><rect x="320.8" y="277.60" width="47.599999999999966" height="1.5" fill="#aeaba5"/><rect x="320.8" y="281.20" width="47.599999999999966" height="1.5" fill="#aeaba5"/><rect x="320.8" y="284.80" width="47.599999999999966" height="1.5" fill="#aeaba5"/><rect x="320.8" y="288.40" width="47.599999999999966" height="1.5" fill="#aeaba5"/><rect x="320.8" y="292.00" width="47.599999999999966" height="1.5" fill="#aeaba5"/><path d="M344.3 259 L344.3 314.5 M320.8 295.6 L368.4 295.6" stroke="#7a7570" stroke-width="0.7"/><path d="M332.7 260 L332.7 268.5" stroke="#111" stroke-width="0.6"/><path d="M331.3 267 L332.7 271.2 L334.09999999999997 267 Z" fill="#111"/><path d="M356.4 260 L356.4 268.5" stroke="#111" stroke-width="0.6"/><path d="M355.0 267 L356.4 271.2 L357.79999999999995 267 Z" fill="#111"/><rect x="371.5" y="240" width="34" height="36" fill="#c9c9c9"/><rect x="407" y="240" width="88" height="87" fill="#f1f1ef"/><circle cx="457" cy="261" r="1.16" fill="#eedc9e" opacity="0.85"/><circle cx="459" cy="265" r="0.97" fill="#eedc9e" opacity="0.85"/><circle cx="461" cy="269" r="1.52" fill="#eedc9e" opacity="0.85"/><circle cx="463" cy="274" r="0.88" fill="#eedc9e" opacity="0.85"/><circle cx="466" cy="279" r="1.39" fill="#eedc9e" opacity="0.85"/><circle cx="468" cy="284" r="1.20" fill="#eedc9e" opacity="0.85"/><circle cx="462" cy="289" r="0.86" fill="#eedc9e" opacity="0.85"/><circle cx="463" cy="294" r="1.36" fill="#eedc9e" opacity="0.85"/><circle cx="461" cy="299" r="0.84" fill="#eedc9e" opacity="0.85"/><circle cx="457" cy="304" r="1.28" fill="#eedc9e" opacity="0.85"/><circle cx="452" cy="307" r="0.88" fill="#eedc9e" opacity="0.85"/><circle cx="447" cy="305" r="0.90" fill="#eedc9e" opacity="0.85"/><circle cx="462" cy="308" r="1.27" fill="#eedc9e" opacity="0.85"/><circle cx="467" cy="306" r="1.71" fill="#eedc9e" opacity="0.85"/><circle cx="471" cy="309" r="0.94" fill="#eedc9e" opacity="0.85"/><circle cx="469" cy="313" r="1.05" fill="#eedc9e" opacity="0.85"/><circle cx="457" cy="311" r="1.49" fill="#eedc9e" opacity="0.85"/><circle cx="421" cy="252" r="1.84" fill="#eedc9e" opacity="0.85"/><circle cx="474" cy="262" r="1.43" fill="#eedc9e" opacity="0.85"/><circle cx="414" cy="318" r="1.24" fill="#eedc9e" opacity="0.85"/><path d="M412 262 C420 258 424 250 430 246 M418 300 C426 296 430 290 440 288 M480 250 C484 262 486 272 490 280 M430 320 C440 312 446 314 452 318 M470 292 C474 286 478 284 486 284" stroke="#d6d6d3" stroke-width="0.5" fill="none"/><circle cx="491.0" cy="245.9" r="0.35" fill="#c9c9c6"/><circle cx="481.1" cy="266.0" r="0.35" fill="#c9c9c6"/><circle cx="421.1" cy="251.8" r="0.35" fill="#c9c9c6"/><circle cx="434.9" cy="309.7" r="0.35" fill="#c9c9c6"/><circle cx="424.2" cy="290.3" r="0.35" fill="#c9c9c6"/><circle cx="462.7" cy="272.9" r="0.35" fill="#c9c9c6"/><circle cx="455.0" cy="247.2" r="0.35" fill="#c9c9c6"/><circle cx="414.0" cy="259.1" r="0.35" fill="#c9c9c6"/><circle cx="466.2" cy="277.5" r="0.35" fill="#c9c9c6"/><circle cx="435.4" cy="290.6" r="0.35" fill="#c9c9c6"/><circle cx="447.1" cy="266.9" r="0.35" fill="#c9c9c6"/><circle cx="475.7" cy="300.0" r="0.35" fill="#c9c9c6"/><circle cx="429.5" cy="289.7" r="0.35" fill="#c9c9c6"/><circle cx="453.1" cy="314.6" r="0.35" fill="#c9c9c6"/><circle cx="470.3" cy="265.9" r="0.35" fill="#c9c9c6"/><circle cx="491.3" cy="251.8" r="0.35" fill="#c9c9c6"/><circle cx="444.1" cy="304.8" r="0.35" fill="#c9c9c6"/><circle cx="421.8" cy="282.6" r="0.35" fill="#c9c9c6"/><circle cx="412.3" cy="297.5" r="0.35" fill="#c9c9c6"/><circle cx="473.2" cy="289.6" r="0.35" fill="#c9c9c6"/><circle cx="482.5" cy="268.0" r="0.35" fill="#c9c9c6"/><circle cx="467.4" cy="291.3" r="0.35" fill="#c9c9c6"/><circle cx="457.7" cy="279.9" r="0.35" fill="#c9c9c6"/><circle cx="479.6" cy="320.4" r="0.35" fill="#c9c9c6"/><circle cx="448.8" cy="297.1" r="0.35" fill="#c9c9c6"/><circle cx="414.1" cy="300.2" r="0.35" fill="#c9c9c6"/><circle cx="463.4" cy="324.4" r="0.35" fill="#c9c9c6"/><circle cx="478.0" cy="265.6" r="0.35" fill="#c9c9c6"/><circle cx="441.4" cy="297.5" r="0.35" fill="#c9c9c6"/><circle cx="410.9" cy="280.3" r="0.35" fill="#c9c9c6"/><circle cx="423.1" cy="251.7" r="0.35" fill="#c9c9c6"/><circle cx="414.0" cy="305.8" r="0.35" fill="#c9c9c6"/><circle cx="419.9" cy="262.6" r="0.35" fill="#c9c9c6"/><circle cx="441.8" cy="314.3" r="0.35" fill="#c9c9c6"/><circle cx="415.8" cy="279.3" r="0.35" fill="#c9c9c6"/><circle cx="455.2" cy="315.3" r="0.35" fill="#c9c9c6"/><circle cx="477.8" cy="313.7" r="0.35" fill="#c9c9c6"/><circle cx="432.4" cy="276.5" r="0.35" fill="#c9c9c6"/><circle cx="439.1" cy="315.4" r="0.35" fill="#c9c9c6"/><circle cx="489.4" cy="254.5" r="0.35" fill="#c9c9c6"/><circle cx="423.8" cy="261.3" r="0.35" fill="#c9c9c6"/><circle cx="428.6" cy="282.3" r="0.35" fill="#c9c9c6"/><circle cx="458.5" cy="263.8" r="0.35" fill="#c9c9c6"/><circle cx="409.3" cy="276.8" r="0.35" fill="#c9c9c6"/><circle cx="440.0" cy="289.0" r="0.35" fill="#c9c9c6"/><circle cx="489.1" cy="299.3" r="0.35" fill="#c9c9c6"/><circle cx="452.3" cy="293.3" r="0.35" fill="#c9c9c6"/><circle cx="465.8" cy="246.5" r="0.35" fill="#c9c9c6"/><circle cx="484.6" cy="306.7" r="0.35" fill="#c9c9c6"/><circle cx="482.5" cy="308.2" r="0.35" fill="#c9c9c6"/><circle cx="442.0" cy="275.1" r="0.35" fill="#c9c9c6"/><circle cx="417.7" cy="294.6" r="0.35" fill="#c9c9c6"/><circle cx="414.2" cy="247.6" r="0.35" fill="#c9c9c6"/><circle cx="426.5" cy="255.5" r="0.35" fill="#c9c9c6"/><circle cx="437.6" cy="246.4" r="0.35" fill="#c9c9c6"/><circle cx="409.0" cy="254.6" r="0.35" fill="#c9c9c6"/><circle cx="417.5" cy="272.2" r="0.35" fill="#c9c9c6"/><circle cx="411.1" cy="314.6" r="0.35" fill="#c9c9c6"/><circle cx="460.6" cy="254.3" r="0.35" fill="#c9c9c6"/><circle cx="430.2" cy="270.8" r="0.35" fill="#c9c9c6"/><rect x="476" y="296" width="19" height="31" fill="#c3c3c3"/><path d="M476 301 L495 301 M476 306 L495 306 M476 311 L495 311 M476 316 L495 316 M476 321 L495 321 M481 296 L481 327 M486 296 L486 327 M491 296 L491 327" stroke="#a6a6a6" stroke-width="0.5"/><rect x="405.5" y="328.8" width="92.5" height="7" fill="#d3d3d3" stroke="#8a8a8a" stroke-width="0.8"/><rect x="344.3" y="315.5" width="27" height="12.8" fill="#d8d8d8" stroke="#888" stroke-width="0.6"/><circle cx="350.4" cy="320.6" r="3.1" fill="#a9a9a9" stroke="#555" stroke-width="0.6"/><circle cx="361.5" cy="320.6" r="3.1" fill="#a9a9a9" stroke="#555" stroke-width="0.6"/><g fill="#5f5757"><rect x="318.2" y="238.8" width="2.6" height="90.5"/><rect x="318.2" y="238.8" width="32" height="2.4"/><rect x="365" y="238.8" width="17" height="2.4"/><rect x="395" y="238.8" width="103" height="2.4"/><rect x="368.4" y="238.8" width="3.4" height="77.5"/><rect x="318.2" y="314" width="53.6" height="2.2"/><rect x="369" y="275.5" width="40" height="3.5"/><rect x="405.2" y="238.8" width="3.9" height="90"/><rect x="494.2" y="238.8" width="3.5" height="90"/><rect x="405.2" y="326.2" width="13" height="2.6"/><rect x="465" y="326.2" width="33" height="2.6"/><rect x="473.6" y="295.3" width="3.4" height="33.5"/><rect x="473.6" y="295.3" width="7" height="2"/><rect x="489" y="295.3" width="8.7" height="2"/></g><text x="358.2" y="244.4" font-size="5" text-anchor="middle" fill="#1e1e1e" font-weight="normal" >FRD</text><text x="332.7" y="258" font-size="5" text-anchor="middle" fill="#1e1e1e" font-weight="normal" >DN</text><text x="356.4" y="258" font-size="5" text-anchor="middle" fill="#1e1e1e" font-weight="normal" >UP</text><text x="388.5" y="258.5" font-size="5.3" text-anchor="middle" fill="#1e1e1e" font-weight="normal" >LIFT-01</text><text x="453" y="279.3" font-size="5" text-anchor="middle" fill="#1e1e1e" font-weight="normal" >DRIVER ROOM</text><text x="485.3" y="314" font-size="4.9" text-anchor="middle" fill="#1e1e1e" font-weight="normal" >TOILET</text><rect x="876.7" y="239" width="46.3" height="77" fill="#f2e6c6"/><rect x="876.7" y="259.50" width="46.299999999999955" height="1.5" fill="#aeaba5"/><rect x="876.7" y="263.10" width="46.299999999999955" height="1.5" fill="#aeaba5"/><rect x="876.7" y="266.70" width="46.299999999999955" height="1.5" fill="#aeaba5"/><rect x="876.7" y="270.30" width="46.299999999999955" height="1.5" fill="#aeaba5"/><rect x="876.7" y="273.90" width="46.299999999999955" height="1.5" fill="#aeaba5"/><rect x="876.7" y="277.50" width="46.299999999999955" height="1.5" fill="#aeaba5"/><rect x="876.7" y="281.10" width="46.299999999999955" height="1.5" fill="#aeaba5"/><rect x="876.7" y="284.70" width="46.299999999999955" height="1.5" fill="#aeaba5"/><rect x="876.7" y="288.30" width="46.299999999999955" height="1.5" fill="#aeaba5"/><rect x="876.7" y="291.90" width="46.299999999999955" height="1.5" fill="#aeaba5"/><path d="M899.9 259 L899.9 316 M876.7 295.5 L923 295.5" stroke="#7a7570" stroke-width="0.7"/><path d="M888 260 L888 268.5" stroke="#111" stroke-width="0.6"/><path d="M886.6 267 L888 271.2 L889.4 267 Z" fill="#111"/><path d="M912 260 L912 268.5" stroke="#111" stroke-width="0.6"/><path d="M910.6 267 L912 271.2 L913.4 267 Z" fill="#111"/><rect x="839" y="240" width="34" height="36" fill="#d2d2d2"/><rect x="900" y="315" width="23" height="12.5" fill="#fbfbfa"/><rect x="873.5" y="316" width="26.4" height="12" fill="#d8d8d8" stroke="#888" stroke-width="0.6"/><circle cx="879.6" cy="320.8" r="3.1" fill="#a9a9a9" stroke="#555" stroke-width="0.6"/><circle cx="890.6" cy="320.8" r="3.1" fill="#a9a9a9" stroke="#555" stroke-width="0.6"/><rect x="927" y="239" width="34" height="88" fill="#eaeaea"/><g transform="translate(925.1,321.6) scale(1,-1)"><use href="#car"/></g><text x="944.3" y="245.8" font-size="4.3" text-anchor="middle" fill="#1e1e1e" font-weight="normal" >PARKING</text><text x="944.3" y="250.6" font-size="6.2" text-anchor="middle" fill="#1e1e1e" font-weight="normal" >43</text><g fill="#5f5757"><rect x="835.5" y="238.8" width="3.5" height="91"/><rect x="835.5" y="238.8" width="6" height="2.4"/><rect x="856" y="238.8" width="21" height="2.4"/><rect x="893" y="238.8" width="34" height="2.4"/><rect x="836" y="274.5" width="40" height="3.5"/><rect x="872.4" y="238.8" width="4.3" height="91"/><rect x="923" y="238.8" width="4.4" height="91"/><rect x="900" y="314" width="23" height="2"/><rect x="961" y="238.8" width="2.6" height="91"/><rect x="835.5" y="327" width="128" height="2.7"/><rect x="1058.8" y="238.8" width="3.2" height="90.7"/><rect x="1058.8" y="327" width="50" height="2.6"/></g><text x="886" y="244.2" font-size="5" text-anchor="middle" fill="#1e1e1e" font-weight="normal" >FRD</text><text x="888" y="258" font-size="5" text-anchor="middle" fill="#1e1e1e" font-weight="normal" >DN</text><text x="912" y="258" font-size="5" text-anchor="middle" fill="#1e1e1e" font-weight="normal" >UP</text><text x="856" y="262" font-size="5.3" text-anchor="middle" fill="#9a9a9a" font-weight="normal" >LIFT-01</text></g><g font-family="Liberation Sans, sans-serif" fill="#3a3634"><text x="119.8" y="409.2" font-size="14.9" text-anchor="start" fill="#332e2c" font-weight="normal" stroke="#332e2c" stroke-width="0.328" >3</text><text x="128.4" y="401.5" font-size="6.4" text-anchor="start" fill="#332e2c" font-weight="normal" stroke="#332e2c" stroke-width="0.2" textLength="8.8" lengthAdjust="spacingAndGlyphs">RD</text><text x="145.3" y="409.2" font-size="14.9" text-anchor="start" fill="#332e2c" font-weight="normal" stroke="#332e2c" stroke-width="0.328" textLength="88.8" lengthAdjust="spacingAndGlyphs">FLOOR PLAN</text><text x="119.9" y="430.2" font-size="11.7" text-anchor="start" fill="#332e2c" font-weight="normal" stroke="#332e2c" stroke-width="0.257" textLength="56.3" lengthAdjust="spacingAndGlyphs">Podium &#8211; 1</text></g><circle cx="62.7" cy="404.2" r="15" fill="none" stroke="#8d8884" stroke-width="0.7" stroke-dasharray="17.56 6" stroke-dashoffset="20.56"/><g transform="translate(62.7,404.2)"><path d="M0 -23 L-3 -3 L0 0 Z" fill="#4f4a47"/><path d="M0 -23 L3 -3 L0 0 Z" fill="#ece9e5"/><path d="M23 0 L3 -3 L0 0 Z" fill="#4f4a47"/><path d="M23 0 L3 3 L0 0 Z" fill="#ece9e5"/><path d="M0 23 L3 3 L0 0 Z" fill="#4f4a47"/><path d="M0 23 L-3 3 L0 0 Z" fill="#ece9e5"/><path d="M-22.5 0 L-3 3 L0 0 Z" fill="#4f4a47"/><path d="M-22.5 0 L-3 -3 L0 0 Z" fill="#ece9e5"/><path d="M0 -23 L3 -3 L23 0 L3 3 L0 23 L-3 3 L-22.5 0 L-3 -3 Z" fill="none" stroke="#6b6662" stroke-width="0.45"/></g><text x="62.7" y="380" font-family="Liberation Sans, sans-serif" font-size="6.5" text-anchor="middle" fill="#4a4644">N</text><defs><pattern id="dots" width="2.2" height="2.2" patternUnits="userSpaceOnUse"><circle cx="1.1" cy="1.1" r="0.45" fill="#d6d2cd"/></pattern><mask id="wmOuter" maskUnits="userSpaceOnUse" x="0" y="0" width="1280" height="640"><rect x="-2000" y="-2000" width="4000" height="4000" fill="white"/><g transform="translate(417,403) rotate(-14.5)"><text x="0" y="0" font-family="Liberation Sans, sans-serif" font-weight="bold" font-size="72" letter-spacing="3.2" fill="black" stroke="black" stroke-width="2.4" stroke-linejoin="round">Housley.com</text></g></mask></defs><g opacity="0.55" transform="translate(417,403) rotate(-14.5)"><text x="0" y="0" font-family="Liberation Sans, sans-serif" font-weight="bold" font-size="72" letter-spacing="3.2" fill="#ffffff" stroke="#ffffff" stroke-width="2.4" stroke-linejoin="round">Housley.com</text></g><g opacity="0.5" transform="translate(417,403) rotate(-14.5)"><text x="0" y="0" font-family="Liberation Sans, sans-serif" font-weight="bold" font-size="72" letter-spacing="3.2" fill="url(#dots)" stroke="url(#dots)" stroke-width="2.4" stroke-linejoin="round">Housley.com</text></g><g mask="url(#wmOuter)"><g transform="translate(417,403) rotate(-14.5)"><text x="0" y="0" font-family="Liberation Sans, sans-serif" font-weight="bold" font-size="72" letter-spacing="3.2" fill="none" stroke="#cdc8c2" stroke-width="4.4" stroke-linejoin="round" stroke-dasharray="2.4 1.5">Housley.com</text></g></g></svg></body></html>
